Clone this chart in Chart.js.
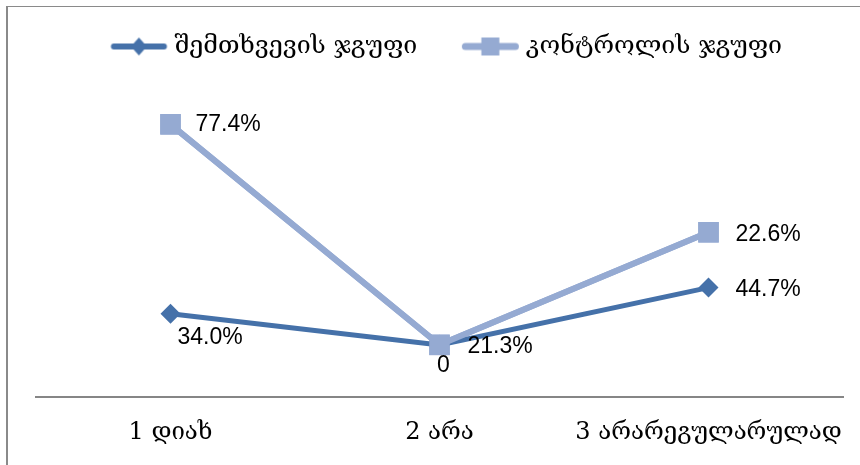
<!DOCTYPE html>
<html>
<head>
<meta charset="utf-8">
<script src="https://cdn.jsdelivr.net/npm/chart.js@4/dist/chart.umd.min.js"></script>
<style>
  html, body { margin: 0; padding: 0; background: #ffffff; }
  #wrap { position: relative; width: 860px; height: 465px; overflow: hidden; }
  #frame { position: absolute; left: 6px; top: 6px; right: -4px; bottom: -4px;
           border-left: 2px solid #8a8a8a; border-top: 1px solid #8a8a8a; }
  #c { position: absolute; left: 0; top: 0; }
</style>
</head>
<body>
<div id="wrap"><div id="frame"></div><canvas id="c" width="860" height="465"></canvas></div>
<script>
// Survey answers per group (percent), stacked line chart
const categories = ['1 დიახ', '2 არა', '3 არარეგულარულად'];
const seriesNames = ['შემთხვევის ჯგუფი', 'კონტროლის ჯგუფი'];
const caseGroup = [34.0, 21.3, 44.7];
const controlGroup = [77.4, 0, 22.6];

const DARK = '#4571a9';
const LIGHT = '#95aad2';
const GEO_FONT = "'DejaVu Serif', 'DejaVu Sans', serif";
const NUM_FONT = "'Liberation Sans Narrow', 'Liberation Sans', sans-serif";

// Legend swatch: short line with the series marker on it
const SWATCH_IMG_W = 80, SWATCH_LINE = 56, SWATCH_CENTER = 49.5;
function legendSwatch(color, shape, lineWidth) {
  const h = 24;
  const c = document.createElement('canvas');
  c.width = SWATCH_IMG_W; c.height = h;
  const g = c.getContext('2d');
  const cx = SWATCH_CENTER, cy = h / 2;
  g.strokeStyle = color; g.fillStyle = color;
  g.lineWidth = lineWidth; g.lineCap = 'round';
  g.beginPath();
  g.moveTo(cx - SWATCH_LINE / 2 + 3, cy); g.lineTo(cx + SWATCH_LINE / 2 - 3, cy);
  g.stroke();
  g.beginPath();
  if (shape === 'diamond') {
    g.moveTo(cx, cy - 9); g.lineTo(cx + 8, cy); g.lineTo(cx, cy + 9); g.lineTo(cx - 8, cy);
  } else {
    g.rect(cx - 9, cy - 9, 18, 18);
  }
  g.closePath(); g.fill();
  return c;
}
const swatches = [legendSwatch(DARK, 'diamond', 6), legendSwatch(LIGHT, 'square', 7)];

// Value labels placed beside each point
const labelPlacement = [
  [{ dx: 7, dy: 24, align: 'left' }, { dx: 28, dy: 2, align: 'left' }, { dx: 27, dy: 2, align: 'left' }],
  [{ dx: 25, dy: 0, align: 'left' }, { dx: 4, dy: 21, align: 'center' }, { dx: 27, dy: 2, align: 'left' }]
];
function fmt(v) { return v === 0 ? '0' : v.toFixed(1) + '%'; }

const valueLabels = {
  id: 'valueLabels',
  afterDatasetsDraw(chart) {
    const ctx = chart.ctx;
    // control group drawn again so its markers sit above the case line
    chart.getDatasetMeta(1).controller.draw();
    ctx.save();
    ctx.font = '23px ' + NUM_FONT;
    ctx.fillStyle = '#000000';
    ctx.textBaseline = 'middle';
    chart.data.datasets.forEach((ds, di) => {
      const meta = chart.getDatasetMeta(di);
      meta.data.forEach((pt, i) => {
        const p = labelPlacement[di][i];
        ctx.textAlign = p.align;
        ctx.fillText(fmt(ds.data[i]), pt.x + p.dx, pt.y + p.dy);
      });
    });
    ctx.restore();
  }
};

new Chart(document.getElementById('c'), {
  type: 'line',
  data: {
    labels: categories,
    datasets: [
      { label: seriesNames[0], data: caseGroup, borderColor: DARK, backgroundColor: DARK,
        borderWidth: 5, pointStyle: 'rectRot', pointRadius: 10, pointHoverRadius: 10,
        pointBorderWidth: 0, tension: 0, fill: false, clip: false },
      { label: seriesNames[1], data: controlGroup, borderColor: LIGHT, backgroundColor: LIGHT,
        borderWidth: 6, pointStyle: 'rect', pointRadius: 14.5, pointHoverRadius: 14.5,
        pointBorderWidth: 0, tension: 0, fill: false, clip: false }
    ]
  },
  options: {
    responsive: false,
    animation: false,
    devicePixelRatio: 1,
    layout: { autoPadding: false, padding: { top: 3, left: 36, right: 17, bottom: 0 } },
    plugins: {
      tooltip: { enabled: false },
      legend: {
        position: 'top',
        labels: {
          usePointStyle: true,
          pointStyleWidth: 65,
          padding: 31,
          color: '#000000',
          font: { family: GEO_FONT, size: 25 },
          generateLabels(chart) {
            return chart.data.datasets.map((ds, i) => ({
              text: ds.label, pointStyle: swatches[i], datasetIndex: i,
              fillStyle: ds.borderColor, strokeStyle: ds.borderColor, lineWidth: 0,
              hidden: false, fontColor: '#000000'
            }));
          }
        }
      }
    },
    scales: {
      x: {
        offset: true,
        grid: { display: false, drawTicks: false },
        border: { display: true, color: '#868686', width: 2 },
        ticks: { color: '#000000', padding: 0, maxRotation: 0, autoSkip: false,
                 font: { family: GEO_FONT, size: 24, lineHeight: 3 } },
        afterFit(scale) { scale.height = 68; }
      },
      y: {
        display: false,
        stacked: true,
        min: 0,
        max: 134
      }
    }
  },
  plugins: [valueLabels]
});
</script>
</body>
</html>
